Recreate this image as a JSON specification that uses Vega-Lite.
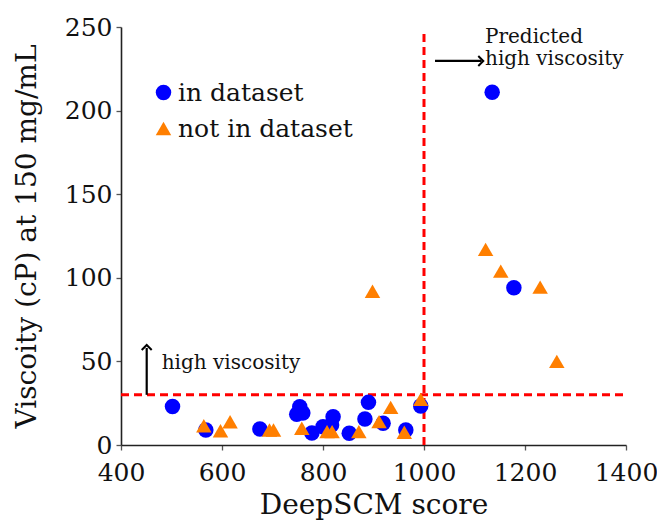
{
  "$schema": "https://vega.github.io/schema/vega-lite/v6.json",
  "width": 505,
  "height": 418,
  "autosize": {"type": "none"},
  "padding": {"left": 121, "top": 27, "right": 31, "bottom": 77},
  "config": {
    "view": {"stroke": null},
    "axis": {
      "grid": false,
      "domainColor": "#222222",
      "domainWidth": 1.6,
      "tickColor": "#555555",
      "tickWidth": 1.3,
      "tickSize": 5,
      "labelFont": "DejaVu Serif",
      "labelFontSize": 25,
      "labelColor": "#111111",
      "labelOverlap": false,
      "labelFlush": false,
      "titleFont": "DejaVu Serif",
      "titleFontSize": 28,
      "titleFontWeight": "normal",
      "titleColor": "#111111"
    },
    "legend": {
      "symbolSize": 240,
      "labelFont": "DejaVu Serif",
      "labelFontSize": 25,
      "labelColor": "#111111",
      "labelLimit": 400,
      "padding": 0,
      "rowPadding": 10,
      "labelOffset": 2,
      "symbolStrokeWidth": 0,
      "symbolOpacity": 1
    }
  },
  "encoding": {
    "x": {
      "field": "x",
      "type": "quantitative",
      "scale": {"domain": [400, 1400], "nice": false, "zero": false},
      "axis": {"title": "DeepSCM score", "values": [400, 600, 800, 1000, 1200, 1400], "format": "d", "labelPadding": 10, "titlePadding": 6}
    },
    "y": {
      "field": "y",
      "type": "quantitative",
      "scale": {"domain": [0, 250], "nice": false},
      "axis": {"title": "Viscoity (cP) at 150 mg/mL", "values": [0, 50, 100, 150, 200, 250], "format": "d", "labelPadding": 4, "titlePadding": 23}
    }
  },
  "layer": [
    {
      "data": {"values": [{"x": 1000, "y": 0, "y2": 246}]},
      "mark": {"type": "rule", "color": "#ff0000", "strokeWidth": 3, "strokeDash": [8, 5]},
      "encoding": {"y2": {"field": "y2"}}
    },
    {
      "data": {"values": [{"x": 400, "x2": 1400, "y": 30}]},
      "mark": {"type": "rule", "color": "#ff0000", "strokeWidth": 3, "strokeDash": [8, 5]},
      "encoding": {"x2": {"field": "x2"}}
    },
    {
      "data": {"values": [
        {"x": 502, "y": 23, "group": "in dataset"},
        {"x": 568, "y": 9, "group": "in dataset"},
        {"x": 675, "y": 9.6, "group": "in dataset"},
        {"x": 754, "y": 22.9, "group": "in dataset"},
        {"x": 760, "y": 19.1, "group": "in dataset"},
        {"x": 748, "y": 18.4, "group": "in dataset"},
        {"x": 778, "y": 7.2, "group": "in dataset"},
        {"x": 800, "y": 10.9, "group": "in dataset"},
        {"x": 820, "y": 16.9, "group": "in dataset"},
        {"x": 817, "y": 12, "group": "in dataset"},
        {"x": 852, "y": 7, "group": "in dataset"},
        {"x": 890, "y": 25.5, "group": "in dataset"},
        {"x": 883, "y": 15.5, "group": "in dataset"},
        {"x": 919, "y": 13, "group": "in dataset"},
        {"x": 964, "y": 9, "group": "in dataset"},
        {"x": 993.5, "y": 23.3, "group": "in dataset"},
        {"x": 1135, "y": 211, "group": "in dataset"},
        {"x": 1178, "y": 94, "group": "in dataset"},
        {"x": 564, "y": 11.5, "group": "not in dataset"},
        {"x": 597, "y": 8.5, "group": "not in dataset"},
        {"x": 616, "y": 13.9, "group": "not in dataset"},
        {"x": 694, "y": 9, "group": "not in dataset"},
        {"x": 702, "y": 9, "group": "not in dataset"},
        {"x": 758, "y": 10, "group": "not in dataset"},
        {"x": 808, "y": 8, "group": "not in dataset"},
        {"x": 818, "y": 8, "group": "not in dataset"},
        {"x": 871, "y": 8, "group": "not in dataset"},
        {"x": 911, "y": 14, "group": "not in dataset"},
        {"x": 934, "y": 22.5, "group": "not in dataset"},
        {"x": 961, "y": 7.6, "group": "not in dataset"},
        {"x": 993.5, "y": 27.3, "group": "not in dataset"},
        {"x": 898, "y": 92, "group": "not in dataset"},
        {"x": 1122, "y": 117, "group": "not in dataset"},
        {"x": 1152, "y": 104, "group": "not in dataset"},
        {"x": 1230, "y": 94.4, "group": "not in dataset"},
        {"x": 1263, "y": 50, "group": "not in dataset"}
      ]},
      "mark": {"type": "point", "filled": true, "opacity": 1, "size": 240},
      "encoding": {
        "color": {
          "field": "group", "type": "nominal",
          "scale": {"domain": ["in dataset", "not in dataset"], "range": ["#0000ff", "#ff7f00"]},
          "legend": {"orient": "none", "legendX": 30, "legendY": 53, "title": null}
        },
        "shape": {
          "field": "group", "type": "nominal",
          "scale": {"domain": ["in dataset", "not in dataset"], "range": ["circle", "triangle-up"]},
          "legend": {"orient": "none", "legendX": 30, "legendY": 53, "title": null}
        }
      }
    },
    {
      "data": {"values": [
        {"x": 1021.8, "x2": 1114, "y": 229.7, "y2": 229.7},
        {"x": 450.9, "x2": 450.9, "y": 30, "y2": 58}
      ]},
      "mark": {"type": "rule", "color": "#000000", "strokeWidth": 2.2},
      "encoding": {"x2": {"field": "x2"}, "y2": {"field": "y2"}}
    },
    {
      "data": {"values": [{"x": 1117.4, "y": 229.7}]},
      "mark": {"type": "point", "shape": "M-1,-1L0,0L-1,1", "filled": false, "stroke": "#000000", "strokeWidth": 2, "size": 100, "opacity": 1}
    },
    {
      "data": {"values": [{"x": 450.9, "y": 59.8}]},
      "mark": {"type": "point", "shape": "M-1,1L0,0L1,1", "filled": false, "stroke": "#000000", "strokeWidth": 2, "size": 100, "opacity": 1}
    },
    {
      "data": {"values": [
        {"x": 1120.8, "y": 240.3, "t": "Predicted\nhigh viscosity"},
        {"x": 480.6, "y": 45.4, "t": "high viscosity"}
      ]},
      "mark": {"type": "text", "align": "left", "baseline": "alphabetic", "font": "DejaVu Serif", "fontSize": 20, "lineHeight": 22, "lineBreak": "\n", "color": "#111111"},
      "encoding": {"text": {"field": "t"}}
    }
  ]
}
